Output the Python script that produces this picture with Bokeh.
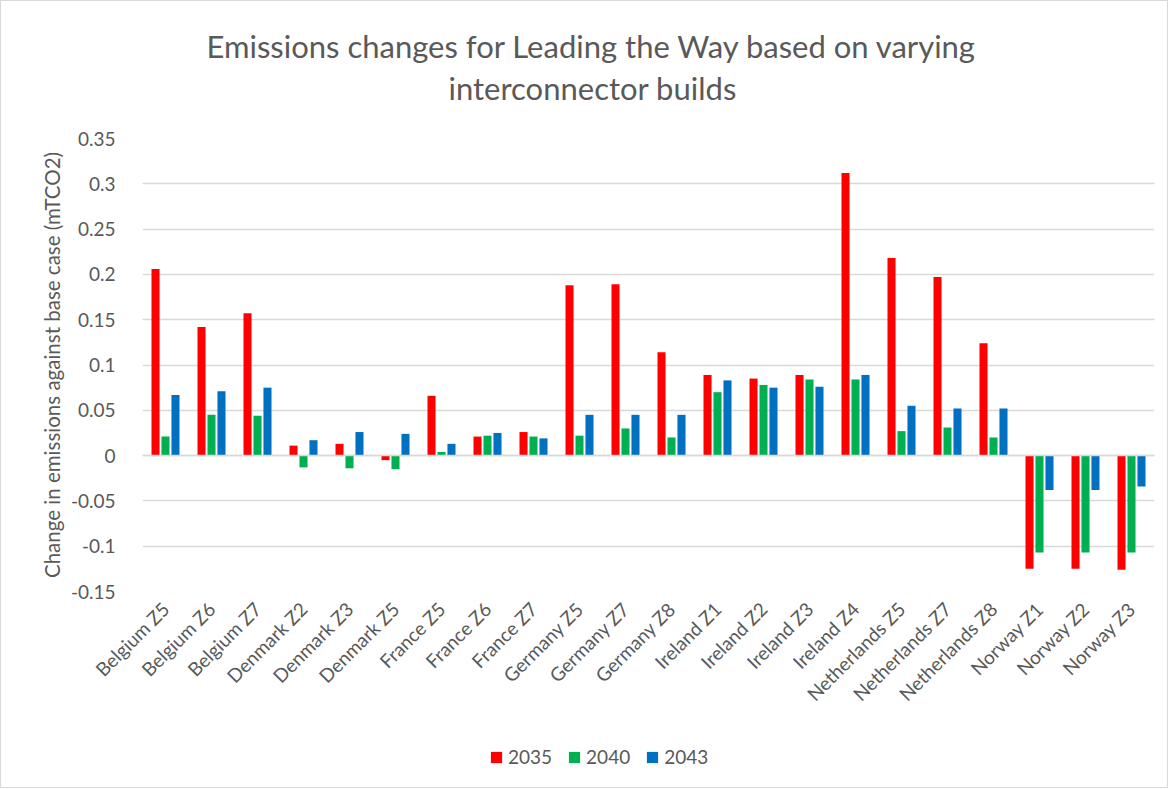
import math
from bokeh.plotting import figure
from bokeh.layouts import column
from bokeh.models import (FactorRange, Range1d, FixedTicker, NumeralTickFormatter,
                          Span, Title, Legend, LegendItem, ColumnDataSource)
from bokeh.transform import dodge
from bokeh.embed import file_html
from bokeh.resources import INLINE

categories = ["Belgium Z5", "Belgium Z6", "Belgium Z7", "Denmark Z2", "Denmark Z3",
              "Denmark Z5", "France Z5", "France Z6", "France Z7", "Germany Z5",
              "Germany Z7", "Germany Z8", "Ireland Z1", "Ireland Z2", "Ireland Z3",
              "Ireland Z4", "Netherlands Z5", "Netherlands Z7", "Netherlands Z8",
              "Norway Z1", "Norway Z2", "Norway Z3"]
years = ["2035", "2040", "2043"]
v2035 = [0.206, 0.142, 0.157, 0.011, 0.013, -0.005, 0.066, 0.021, 0.026, 0.188,
         0.189, 0.114, 0.089, 0.085, 0.089, 0.312, 0.218, 0.197, 0.124,
         -0.125, -0.125, -0.126]
v2040 = [0.021, 0.045, 0.044, -0.013, -0.014, -0.015, 0.004, 0.022, 0.021, 0.022,
         0.030, 0.020, 0.070, 0.078, 0.084, 0.084, 0.027, 0.031, 0.020,
         -0.107, -0.107, -0.107]
v2043 = [0.067, 0.071, 0.075, 0.017, 0.026, 0.024, 0.013, 0.025, 0.019, 0.045,
         0.045, 0.045, 0.083, 0.075, 0.076, 0.089, 0.055, 0.052, 0.052,
         -0.038, -0.038, -0.034]
y_ticks = [-0.15, -0.1, -0.05, 0, 0.05, 0.1, 0.15, 0.2, 0.25, 0.3, 0.35]

title_line1 = "Emissions changes for Leading the Way based on varying"
title_line2 = "interconnector builds"
y_label = "Change in emissions against base case (mTCO2)"

colors = ["#FF0000", "#00B050", "#0070C0"]
FONT = "Lato"
GRAY = "#595959"

src = ColumnDataSource(dict(cat=categories, v2035=v2035, v2040=v2040, v2043=v2043))

p = figure(width=1166, height=716, output_backend="svg", toolbar_location=None,
           x_range=FactorRange(*categories), y_range=Range1d(-0.15, 0.35),
           min_border_left=141, min_border_right=13, min_border_top=137,
           min_border_bottom=126)
p.title.visible = False

spacer = Title(text=" ", text_font_size="10px", standoff=18)
t2 = Title(text=title_line2, align="left", offset=306, text_font_size="31px",
           text_color=GRAY, text_font_style="normal", text_font=FONT, standoff=2)
t1 = Title(text=title_line1, align="left", offset=64, text_font_size="31px",
           text_color=GRAY, text_font_style="normal", text_font=FONT, standoff=2)
p.add_layout(spacer, "above")
p.add_layout(t2, "above")
p.add_layout(t1, "above")

offsets = [-0.217, 0.0, 0.217]
for yr, off, col in zip(years, offsets, colors):
    p.vbar(x=dodge("cat", off, range=p.x_range), top="v" + yr, bottom=0,
           width=0.175, source=src, fill_color=col, line_color=None)

p.add_layout(Span(location=0, dimension="width", line_color="#d9d9d9", line_width=1.5))

p.yaxis.ticker = FixedTicker(ticks=y_ticks)
p.yaxis.formatter = NumeralTickFormatter(format="0.[00]")
p.yaxis.axis_label = y_label
p.yaxis.axis_label_text_font = FONT
p.yaxis.axis_label_text_font_size = "20.5px"
p.yaxis.axis_label_text_font_style = "normal"
p.yaxis.axis_label_text_color = GRAY
p.yaxis.axis_label_standoff = 4
p.yaxis.major_label_text_font = FONT
p.yaxis.major_label_text_font_size = "19px"
p.yaxis.major_label_text_color = GRAY
p.yaxis.major_label_standoff = 21
p.yaxis.axis_line_color = None
p.yaxis.major_tick_line_color = None
p.yaxis.minor_tick_line_color = None

p.xaxis.major_label_orientation = math.pi / 4
p.xaxis.major_label_text_font = FONT
p.xaxis.major_label_text_font_size = "19px"
p.xaxis.major_label_text_color = GRAY
p.xaxis.major_label_standoff = 8
p.xaxis.axis_line_color = None
p.xaxis.major_tick_line_color = None
p.xaxis.minor_tick_line_color = None

p.xgrid.grid_line_color = None
p.ygrid.grid_line_color = "#d9d9d9"
p.ygrid.grid_line_width = 1.5
p.outline_line_color = None

# legend strip below the chart (same series, drawn out of view; only the legend shows)
pl = figure(width=1166, height=70, output_backend="svg", toolbar_location=None,
            x_range=FactorRange(*categories), y_range=Range1d(10, 11),
            x_axis_type=None, y_axis_type=None,
            min_border_left=0, min_border_right=0, min_border_top=0, min_border_bottom=0)
pl.title.visible = False
pl.grid.visible = False
pl.outline_line_color = None
leg_renderers = []
for yr, off, col in zip(years, offsets, colors):
    leg_renderers.append(pl.vbar(x=dodge("cat", off, range=pl.x_range), top="v" + yr,
                                 bottom=0, width=0.175, source=src,
                                 fill_color=col, line_color=None))

legend = Legend(items=[LegendItem(label=yr, renderers=[r]) for yr, r in zip(years, leg_renderers)],
                orientation="horizontal", location=(347, 19), padding=0, margin=0,
                glyph_width=14, glyph_height=14, spacing=15, label_standoff=5,
                label_text_font=FONT, label_text_font_size="19px", label_text_color=GRAY,
                border_line_color=None, background_fill_alpha=0)
pl.add_layout(legend, "center")

layout = column(p, pl, spacing=0)
layout.styles = {"border": "1px solid #d9d9d9"}

open("out.html", "w").write(file_html(layout, INLINE))
